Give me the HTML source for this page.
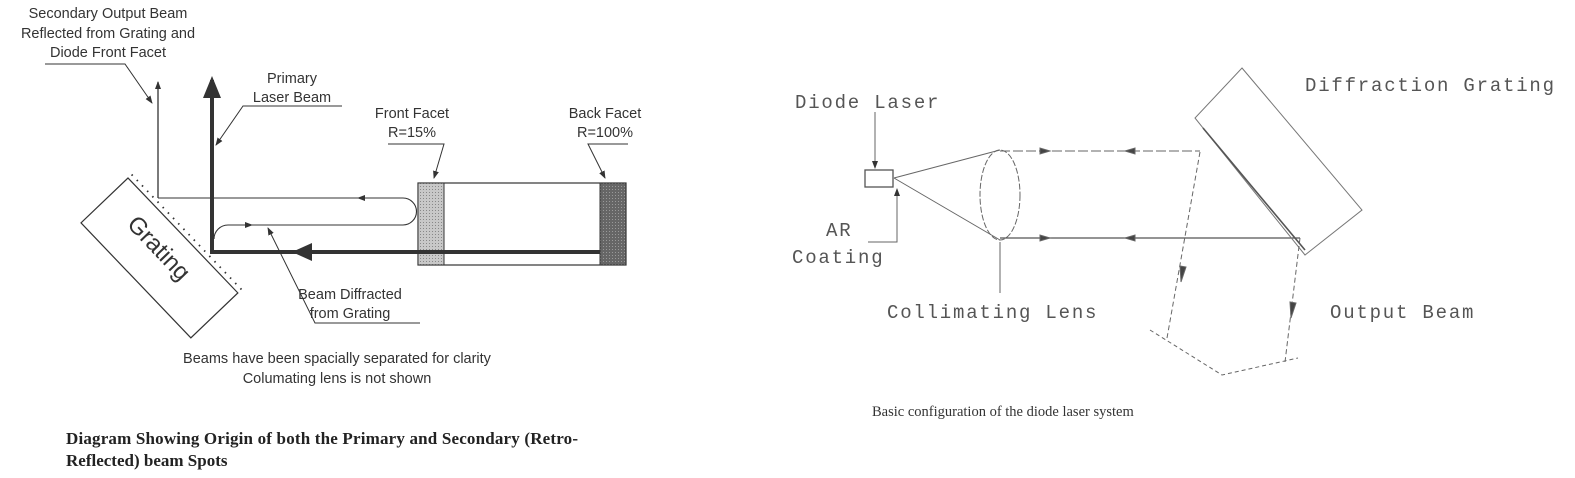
<!DOCTYPE html>
<html><head><meta charset="utf-8"><style>
html,body{margin:0;padding:0;background:#fff;}
svg{display:block}
.s{font-family:"Liberation Sans",sans-serif;font-size:14.5px;fill:#333}
.m{font-family:"Liberation Mono",monospace;font-size:19px;fill:#555;letter-spacing:1.8px}
</style></head><body>
<svg width="1575" height="478" viewBox="0 0 1575 478">
<defs>
<marker id="ah" markerWidth="8" markerHeight="8" refX="7" refY="4" orient="auto" markerUnits="userSpaceOnUse"><path d="M0,1 L8,4 L0,7z" fill="#333"/></marker>
<pattern id="st" width="3" height="3" patternUnits="userSpaceOnUse"><rect width="3" height="3" fill="#c8c8c8"/><rect width="1" height="1" fill="#888"/></pattern>
<pattern id="st2" width="3" height="3" patternUnits="userSpaceOnUse"><rect width="3" height="3" fill="#666"/><rect width="1" height="1" fill="#999"/></pattern>
</defs>
<g stroke="#333" fill="none">
<text class="s" x="108" y="18" text-anchor="middle" stroke="none">Secondary Output Beam</text>
<text class="s" x="108" y="38" text-anchor="middle" stroke="none">Reflected from Grating and</text>
<text class="s" x="108" y="57" text-anchor="middle" stroke="none">Diode Front Facet</text>
<polyline points="45,64 125,64 152,103" stroke-width="1" marker-end="url(#ah)"/>
<text class="s" x="292" y="83" text-anchor="middle" stroke="none">Primary</text>
<text class="s" x="292" y="102" text-anchor="middle" stroke="none">Laser Beam</text>
<polyline points="342,106 243,106 216,145" stroke-width="1" marker-end="url(#ah)"/>
<text class="s" x="412" y="118" text-anchor="middle" stroke="none">Front Facet</text>
<text class="s" x="412" y="137" text-anchor="middle" stroke="none">R=15%</text>
<polyline points="388,144 444,144 434,178" stroke-width="1" marker-end="url(#ah)"/>
<text class="s" x="605" y="118" text-anchor="middle" stroke="none">Back Facet</text>
<text class="s" x="605" y="137" text-anchor="middle" stroke="none">R=100%</text>
<polyline points="628,144 588,144 605,178" stroke-width="1" marker-end="url(#ah)"/>
<rect x="418" y="183" width="208" height="82" stroke-width="1.2"/>
<rect x="418" y="183" width="26" height="82" fill="url(#st)" stroke-width="1"/>
<rect x="600" y="183" width="26" height="82" fill="url(#st2)" stroke-width="1"/>
<path d="M158,198 L158,82" stroke-width="1.3" marker-end="url(#ah)"/>
<path d="M158,198 L403,198 A13.5,13.5 0 0 1 403,225 L228,225 A14,14 0 0 0 214,239" stroke-width="1.1"/>
<path d="M370,198 L358,198" marker-end="url(#ah)" stroke-width="1"/>
<path d="M240,225 L252,225" marker-end="url(#ah)" stroke-width="1"/>
<path d="M600,252 L212,252 L212,80" stroke-width="4"/>
<polygon points="212,76 203,98 221,98" fill="#333" stroke="none"/>
<polygon points="292,252 312,243 312,261" fill="#333" stroke="none"/>
<g transform="translate(128,178) rotate(46.3)">
<rect x="0" y="0" width="159" height="65" stroke-width="1.2"/>
<line x1="0" y1="-5" x2="159" y2="-5" stroke-dasharray="1.5 6" stroke-width="1.8"/>
<text class="s" x="72" y="34" text-anchor="middle" stroke="none" style="font-size:24px">Grating</text>
</g>
<text class="s" x="350" y="299" text-anchor="middle" stroke="none">Beam Diffracted</text>
<text class="s" x="350" y="318" text-anchor="middle" stroke="none">from Grating</text>
<polyline points="420,323 315,323 268,228" stroke-width="1" marker-end="url(#ah)"/>
<text class="s" x="337" y="363" text-anchor="middle" stroke="none">Beams have been spacially separated for clarity</text>
<text class="s" x="337" y="383" text-anchor="middle" stroke="none">Columating lens is not shown</text>
<text x="66" y="444" stroke="none" fill="#222" textLength="512" lengthAdjust="spacing" style="font-family:'Liberation Serif',serif;font-weight:bold;font-size:17px">Diagram Showing Origin of both the Primary and Secondary (Retro-</text>
<text x="66" y="466" stroke="none" fill="#222" style="font-family:'Liberation Serif',serif;font-weight:bold;font-size:17px">Reflected) beam Spots</text>
</g>
<g stroke="#666" fill="none" stroke-width="1">
<text class="m" x="795" y="108" stroke="none">Diode Laser</text>
<path d="M875,112 L875,168" marker-end="url(#ah)"/>
<rect x="865" y="170" width="28" height="17" stroke="#555" stroke-width="1.3"/>
<text class="m" x="826" y="236" stroke="none">AR</text>
<text class="m" x="792" y="263" stroke="none">Coating</text>
<path d="M868,242 L897,242 L897,189" marker-end="url(#ah)"/>
<path d="M894,178 L1000,150 M894,178 L1000,240"/>
<ellipse cx="1000" cy="195" rx="20" ry="45" stroke-dasharray="6 2"/>
<path d="M1000,242 L1000,293"/>
<text class="m" x="887" y="318" stroke="none">Collimating Lens</text>
<path d="M1000,151 L1200,151" stroke-dasharray="10 3"/>
<polygon points="1050,151 1040,148 1040,154" fill="#444"/>
<polygon points="1125,151 1135,148 1135,154" fill="#444"/>
<path d="M1000,238 L1300,238" stroke="#555" stroke-width="1.3"/>
<polygon points="1050,238 1040,235 1040,241" fill="#444"/>
<polygon points="1125,238 1135,235 1135,241" fill="#444"/>
<polygon points="1242,68 1362,210 1305,255 1195,118" stroke="#777"/>
<path d="M1203,128 L1305,250" stroke="#555" stroke-width="1.6"/>
<text class="m" x="1305" y="91" stroke="none">Diffraction Grating</text>
<path d="M1200,152 L1167,338" stroke-dasharray="5 3"/>
<path d="M1300,238 L1285,362" stroke-dasharray="5 3"/>
<polygon points="1181,282 1180,266 1186,267" fill="#444"/>
<polygon points="1291,318 1290,302 1296,303" fill="#444"/>
<path d="M1150,330 L1222,375 L1298,358" stroke-dasharray="4 3"/>
<text class="m" x="1330" y="318" stroke="none">Output Beam</text>
<text x="872" y="416" stroke="none" fill="#333" style="font-family:'Liberation Serif',serif;font-size:14.5px">Basic configuration of the diode laser system</text>
</g>
</svg>
</body></html>
